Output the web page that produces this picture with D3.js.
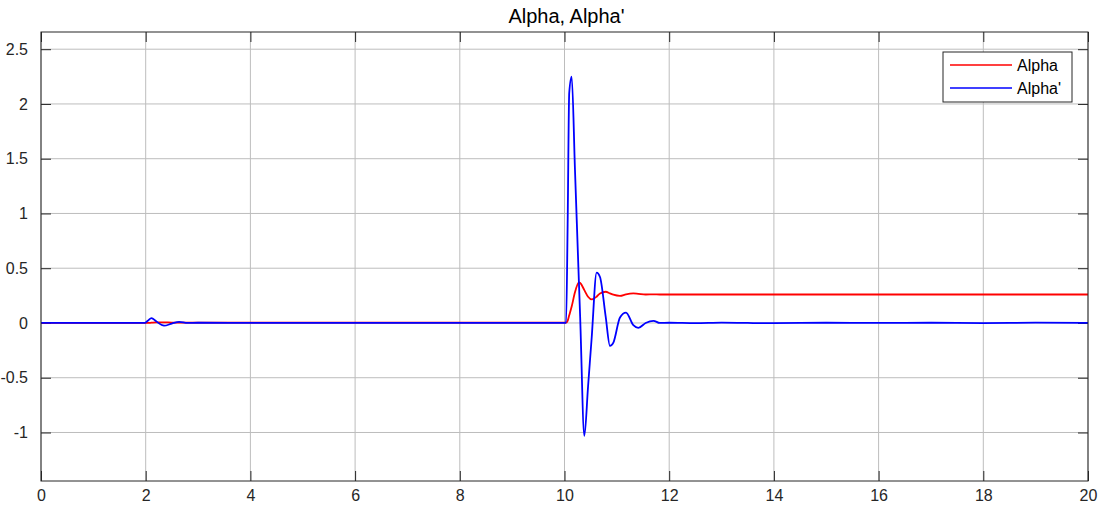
<!DOCTYPE html>
<html>
<head>
<meta charset="utf-8">
<script src="https://cdn.jsdelivr.net/npm/d3@7"></script>
<style>
  body { margin: 0; background: #fff; }
  svg { display: block; font-family: "Liberation Sans", Arial, sans-serif; }
</style>
</head>
<body>
<svg id="chart" width="1104" height="509"></svg>
<script>
// ---- Data ----
const titleText = "Alpha, Alpha'";
const seriesNames = ["Alpha", "Alpha'"];
const seriesColors = ["#ff0000", "#0000ff"];
const time = [0, 1.98, 2.04, 2.11, 2.2, 2.35, 2.5, 2.64, 2.8, 3.0, 4, 6, 8, 10.0, 10.03, 10.06, 10.09, 10.137, 10.2, 10.277, 10.3, 10.379, 10.45, 10.52, 10.614, 10.678, 10.786, 10.869, 10.933, 11.06, 11.175, 11.315, 11.41, 11.55, 11.70, 11.82, 12.0, 12.5, 13.0, 13.5, 14.0, 15.0, 16.0, 17.0, 18.0, 19.0, 20.0];
const alpha = [0, 0, 0, 0.003, 0.006, 0.006, 0.004, 0.004, 0.004, 0.004, 0.003, 0.003, 0.003, 0.003, 0.003, 0.02, 0.07, 0.15, 0.28, 0.37, 0.365, 0.3, 0.24, 0.215, 0.24, 0.27, 0.285, 0.27, 0.258, 0.247, 0.262, 0.27, 0.266, 0.26, 0.262, 0.26, 0.26, 0.26, 0.26, 0.26, 0.26, 0.26, 0.26, 0.26, 0.26, 0.26, 0.26];
const alphaPrime = [0, 0, 0.02, 0.045, 0.015, -0.025, -0.005, 0.01, 0, 0.002, 0.001, 0, 0, 0, 0, 0.9, 2.1, 2.25, 1.4, 0.35, 0.04, -1.03, -0.58, -0.13, 0.46, 0.42, 0.06, -0.21, -0.18, 0.05, 0.095, -0.02, -0.045, 0, 0.02, 0, 0.002, -0.002, 0.003, 0, -0.002, 0.002, 0, 0.002, -0.001, 0.003, 0];
const xTicks = [0, 2, 4, 6, 8, 10, 12, 14, 16, 18, 20];
const yTicks = [-1, -0.5, 0, 0.5, 1, 1.5, 2, 2.5];
const xDomain = [0, 20];
const yDomain = [-1.443, 2.657];

// ---- Layout ----
const svg = d3.select("#chart");
const L = 41, R = 1088, T = 32, B = 481;
const x = d3.scaleLinear().domain(xDomain).range([L, R]);
const y = d3.scaleLinear().domain(yDomain).range([B, T]);
const axisColor = "#262626";
const gridColor = "#bdbdbd";
const tickLen = 10;
const fmt = d => String(d).replace("\u2212", "-");

svg.append("rect").attr("x", 0).attr("y", 0).attr("width", 1104).attr("height", 509).attr("fill", "#fff");

// grid
const grid = svg.append("g");
grid.selectAll(".gx").data(xTicks).join("line")
  .attr("x1", d => x(d)).attr("x2", d => x(d)).attr("y1", T).attr("y2", B)
  .attr("stroke", gridColor).attr("stroke-width", 1);
grid.selectAll(".gy").data(yTicks).join("line")
  .attr("x1", L).attr("x2", R).attr("y1", d => y(d)).attr("y2", d => y(d))
  .attr("stroke", gridColor).attr("stroke-width", 1);

// axes (ticks inward)
function styleAxis(g) {
  g.select(".domain").remove();
  g.selectAll(".tick line").attr("stroke", axisColor);
  g.selectAll(".tick text").attr("fill", axisColor).style("font-size", "16px").style("font-family", "Liberation Sans, Arial, sans-serif");
}
svg.append("g").attr("transform", `translate(0,${B})`)
  .call(d3.axisBottom(x).tickValues(xTicks).tickFormat(fmt).tickSizeInner(-tickLen).tickSizeOuter(0).tickPadding(9))
  .call(styleAxis);
svg.append("g").attr("transform", `translate(0,${T})`)
  .call(d3.axisTop(x).tickValues(xTicks).tickFormat("").tickSizeInner(-tickLen).tickSizeOuter(0))
  .call(styleAxis);
svg.append("g").attr("transform", `translate(${L},0)`)
  .call(d3.axisLeft(y).tickValues(yTicks).tickFormat(fmt).tickSizeInner(-tickLen).tickSizeOuter(0).tickPadding(13))
  .call(styleAxis);
svg.append("g").attr("transform", `translate(${R},0)`)
  .call(d3.axisRight(y).tickValues(yTicks).tickFormat("").tickSizeInner(-tickLen).tickSizeOuter(0))
  .call(styleAxis);

// lines
svg.append("clipPath").attr("id", "clip").append("rect")
  .attr("x", L).attr("y", T).attr("width", R - L).attr("height", B - T);
const line = d3.line().x(d => x(d[0])).y(d => y(d[1])).curve(d3.curveMonotoneX);
const series = [alpha, alphaPrime];
series.forEach((vals, i) => {
  svg.append("path")
    .datum(time.map((t, j) => [t, vals[j]]))
    .attr("d", line)
    .attr("fill", "none")
    .attr("stroke", seriesColors[i])
    .attr("stroke-width", 1.8)
    .attr("stroke-linejoin", "round")
    .attr("clip-path", "url(#clip)");
});

// box
svg.append("rect").attr("x", L).attr("y", T).attr("width", R - L).attr("height", B - T)
  .attr("fill", "none").attr("stroke", axisColor).attr("stroke-width", 1);

// title
svg.append("text").attr("x", (L + R) / 2 + 2).attr("y", 23).attr("text-anchor", "middle")
  .attr("fill", "#000").style("font-size", "20px").text(titleText);

// legend
const lg = svg.append("g");
lg.append("rect").attr("x", 943).attr("y", 52).attr("width", 129).attr("height", 50)
  .attr("fill", "#fff").attr("stroke", axisColor).attr("stroke-width", 1);
seriesNames.forEach((name, i) => {
  const yy = 65 + i * 23;
  lg.append("line").attr("x1", 950).attr("x2", 1012).attr("y1", yy).attr("y2", yy)
    .attr("stroke", seriesColors[i]).attr("stroke-width", 1.6);
  lg.append("text").attr("x", 1017).attr("y", yy + 6).attr("fill", "#000")
    .style("font-size", "16px").text(name);
});
</script>
</body>
</html>
